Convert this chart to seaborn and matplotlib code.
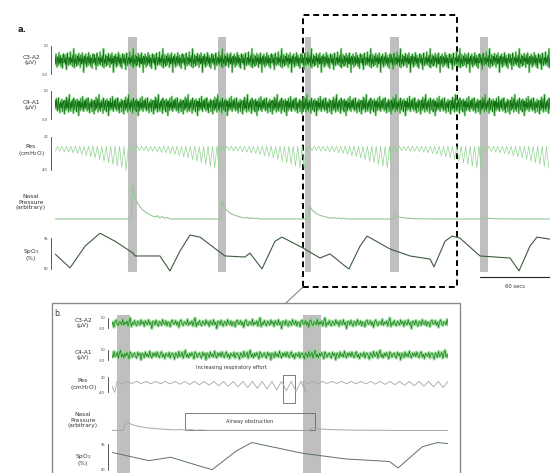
import numpy as np
import seaborn as sns
import matplotlib
matplotlib.use("Agg")
import matplotlib.pyplot as plt
from matplotlib.patches import Rectangle
from matplotlib.lines import Line2D

# recording (seconds) and arousal events
record_len = 425
arousal_start = [63, 140, 215, 288, 365]
arousal_end = [70, 147, 220, 295, 372]
window = (213, 345)

# EEG segments (uV), repeated along the recording
eeg_dt = 0.425
eeg_c3 = [12, -18, 25, -8, -30, 14, 6, -22, 31, -5, -14, 20, -27, 9, 3, -35, 18, 26, -12, -6,
          22, -19, 8, -40, 15, 29, -10, -24, 11, 5, -16, 34, -21, 7, -9, 19, -28, 13, 48, -33,
          4, -15, 23, -11, -26, 17, 2, -20, 28, -7, 10, -31, 21, -3, -17, 30, -13, 6, -52, 16]
eeg_c4 = [-9, 21, -16, 27, -4, -25, 13, 30, -19, 7, -33, 15, 2, -12, 24, -28, 10, 18, -7, -38,
          20, 5, -22, 33, -14, -3, 26, -30, 12, 44, -18, 8, -26, 16, -10, 22, -2, -35, 29, 11,
          -21, 6, 19, -15, -29, 25, -6, 14, -45, 17, 3, -24, 28, -11, 9, -19, 36, -8, -27, 18]

# esophageal pressure: swing depth (cmH2O) per breath, last breath = just before arousal
breath_period = 3.8
pes_swing = [6, 5, 5, 6, 6, 7, 8, 9, 10, 12, 14, 16, 18, 21, 24, 27, 30, 33, 36, 40]
pes_top = 3

# nasal pressure response after each arousal (arbitrary units)
nasal_rel_t = [0, 2.5, 3.5, 6, 9, 12, 16, 20, 23, 25, 27, 29, 31, 33, 36]
nasal_shape = [0, 0, 1.0, 0.62, 0.42, 0.28, 0.18, 0.1, 0.06, 0.1, 0.03, 0.08, 0.02, 0.05, 0]
nasal_peak = [1.0, 0.52, 0.42, 0.12, 0.04]

# oxygen saturation (%)
spo2_t = [0, 12.9, 25.8, 38.6, 51.5, 67.0, 68.7, 90.1, 98.7, 107.3, 115.9, 124.5, 145.9, 163.0,
          167.4, 177.7, 188.9, 194.9, 212.9, 227.5, 236.1, 249.0, 252.4, 261.9, 267.9, 287.7,
          304.8, 322.0, 325.4, 334.9, 340.9, 347.7, 364.9, 390.7, 398.4, 407.8, 413.8, 425.0]
spo2_pct = [87.3, 80.5, 91.1, 97.4, 93.5, 87.7, 86.3, 86.3, 79.0, 88.7, 96.5, 95.5, 86.3, 85.8,
            87.7, 80.0, 93.5, 95.5, 90.2, 85.3, 87.3, 81.4, 80.0, 91.1, 96.0, 89.7,
            86.3, 84.8, 81.0, 93.5, 96.0, 95.0, 86.3, 85.3, 79.0, 91.1, 95.5, 94.5]

# ---- build the traces ----
n_rep = int(np.ceil(record_len / (eeg_dt * len(eeg_c3))))
c3 = np.tile(eeg_c3, n_rep)
c4 = np.tile(eeg_c4, n_rep)
t_eeg = np.arange(len(c3)) * eeg_dt
keep = t_eeg <= record_len
t_eeg, c3, c4 = t_eeg[keep], c3[keep], c4[keep]

pes_t, pes_v = [], []
starts = [arousal_start[0] - len(pes_swing) * breath_period] + arousal_start
ends = arousal_start + [record_len + breath_period]
for s, e in zip(starts, ends):
    n = int(np.ceil((e - s) / breath_period))
    for k in range(n):
        tb = s + k * breath_period
        d = pes_swing[max(0, len(pes_swing) - n + k)]
        for tt, vv in [(tb, pes_top), (tb + 0.5 * breath_period, -d)]:
            if 0 <= tt <= record_len:
                pes_t.append(tt)
                pes_v.append(vv)

nasal_t, nasal_v = [0], [0]
for s, pk in zip(arousal_start, nasal_peak):
    for rt, sh in zip(nasal_rel_t, nasal_shape):
        nasal_t.append(s + rt)
        nasal_v.append(pk * sh)
nasal_t.append(record_len)
nasal_v.append(0)

# ---- figure ----
sns.set_style("white")
plt.rcParams['font.family'] = ['DejaVu Sans']

W, H = 550, 473
fig = plt.figure(figsize=(W / 100, H / 100), dpi=100)


def box(x0, y0, x1, y1):
    return [x0 / W, 1 - y1 / H, (x1 - x0) / W, (y1 - y0) / H]


def ftext(x, y, s, **kw):
    fig.text(x / W, 1 - y / H, s, **kw)


band_col = "#b4b4b4"
lab_kw = dict(fontsize=4.2, ha="center", va="center", color="#333333", linespacing=1.1)


def trace_ax(rect, xlim, ylim, bracket=None, tick_labels=None):
    ax = fig.add_axes(rect)
    ax.set_facecolor("none")
    ax.set_xlim(*xlim)
    ax.set_ylim(*ylim)
    for sp in ["top", "right", "bottom"]:
        ax.spines[sp].set_visible(False)
    ax.set_xticks([])
    if bracket is None:
        ax.spines["left"].set_visible(False)
        ax.set_yticks([])
    else:
        ax.spines["left"].set_position(("outward", 3))
        ax.spines["left"].set_bounds(*bracket)
        ax.spines["left"].set_linewidth(0.6)
        ax.spines["left"].set_color("#444444")
        ax.set_yticks(list(bracket))
        ax.set_yticklabels(tick_labels)
        ax.tick_params(axis="y", length=1.5, width=0.5, pad=0.5, labelsize=2.6,
                       colors="#444444")
    return ax


def line(ax, x, y, color, lw, alpha=1.0):
    sns.lineplot(x=x, y=y, ax=ax, color=color, lw=lw, alpha=alpha, estimator=None, sort=False)


def eeg(ax, x, y, lw_halo, lw_core):
    line(ax, x, y, "#7fd67f", lw_halo, 0.8)
    line(ax, x, y, "#127312", lw_core)


# ---------- panel a ----------
ax_bg = fig.add_axes(box(55, 15, 550, 287))
ax_bg.set_xlim(0, record_len)
ax_bg.set_ylim(0, 1)
ax_bg.axis("off")
for s, e in zip(arousal_start, arousal_end):
    ax_bg.axvspan(s, e, ymin=(287 - 272) / 272, ymax=(287 - 37) / 272, color=band_col,
                  alpha=0.85, lw=0)
ax_bg.add_patch(Rectangle((window[0], 0), window[1] - window[0], 1, fill=False, ec="black",
                          lw=1.4, ls=(0, (3, 2)), clip_on=False, zorder=5))
ax_bg.plot([record_len - 60, record_len], [0.035, 0.035], color="#222222", lw=0.8,
           clip_on=False)
ax_bg.text(record_len - 30, 0.0, "60 secs", fontsize=3.8, ha="center", va="center",
           color="#333333", clip_on=False)

xa = (0, record_len)
a1 = trace_ax(box(55, 40, 550, 80), xa, (-85, 85), (-60, 60), ["-50", "50"])
eeg(a1, t_eeg, c3, 1.5, 0.5)
a2 = trace_ax(box(55, 85, 550, 125), xa, (-85, 85), (-60, 60), ["-50", "50"])
eeg(a2, t_eeg, c4, 1.5, 0.5)
a3 = trace_ax(box(55, 133, 550, 173), xa, (-45.5, 27), (-40, 20), ["-40", "20"])
line(a3, pes_t, pes_v, "#93d493", 0.5)
a4 = trace_ax(box(55, 180, 550, 223), xa, (-0.12, 1.18))
line(a4, nasal_t, nasal_v, "#96c896", 0.8)
a5 = trace_ax(box(55, 233, 550, 273), xa, (78, 97.5), (80, 95), ["80", "95"])
line(a5, spo2_t, spo2_pct, "#3f5a3f", 0.8)

ftext(22, 30, "a.", fontsize=6, fontweight="bold", ha="center", va="center")
ftext(31, 60, "C3-A2\n(\u03bcV)", **lab_kw)
ftext(31, 105, "C4-A1\n(\u03bcV)", **lab_kw)
ftext(31, 151, "Pes\n(cmH$_2$O)", **lab_kw)
ftext(31, 202, "Nasal\nPressure\n(arbitrary)", **lab_kw)
ftext(31, 254, "SpO$_2$\n(%)", **lab_kw)

# connector to panel b
fig.add_artist(Line2D([303 / W, 286 / W], [1 - 287 / H, 1 - 303 / H], color="#777777",
                      lw=0.7))

# ---------- panel b ----------
fig.add_artist(Rectangle((52 / W, -0.01), (460 - 52) / W, 0.01 + (473 - 303) / H,
                         fill=False, ec="#8a8a8a", lw=1.0, transform=fig.transFigure))
ftext(58, 314, "b.", fontsize=5.5, ha="center", va="center", color="#333333")

ax_bgb = fig.add_axes(box(112, 315, 448, 473))
ax_bgb.set_xlim(*window)
ax_bgb.set_ylim(0, 1)
ax_bgb.axis("off")
for s, e in zip(arousal_start, arousal_end):
    ax_bgb.axvspan(s, e, color=band_col, alpha=0.85, lw=0)
ax_bgb.add_patch(Rectangle((280, 0.443), 5, 0.177, fill=False, ec="#666666", lw=0.6, zorder=6))
ax_bgb.add_patch(Rectangle((241.7, 0.272), 51.1, 0.108, fill=False, ec="#666666", lw=0.6,
                           zorder=6))
ax_bgb.text(267, 0.326, "Airway obstruction", fontsize=3.6, ha="center", va="center",
            color="#333333", zorder=7)
ax_bgb.text(259.8, 0.665, "Increasing respiratory effort", fontsize=3.6, ha="center",
            va="center", color="#333333", zorder=7)

b1 = trace_ax(box(112, 315, 448, 331), window, (-75, 75), (-50, 50), ["-50", "50"])
eeg(b1, t_eeg, c3, 2.2, 0.45)
b2 = trace_ax(box(112, 347, 448, 363), window, (-75, 75), (-50, 50), ["-50", "50"])
eeg(b2, t_eeg, c4, 2.2, 0.45)
b3 = trace_ax(box(112, 372, 448, 400), window, (-70, 40), (-40, 20), ["-40", "20"])
line(b3, pes_t, pes_v, "#a6a6a6", 0.6)
b4 = trace_ax(box(112, 405, 448, 433), window, (-0.12, 1.18))
line(b4, nasal_t, nasal_v, "#a6a6a6", 0.7)
b5 = trace_ax(box(112, 440, 448, 473), window, (78, 97.5), (80, 95), ["80", "95"])
line(b5, spo2_t, spo2_pct, "#5f735f", 0.7)

ftext(83, 323, "C3-A2\n(\u03bcV)", **lab_kw)
ftext(83, 355, "C4-A1\n(\u03bcV)", **lab_kw)
ftext(83, 385, "Pes\n(cmH$_2$O)", **lab_kw)
ftext(83, 420, "Nasal\nPressure\n(arbitrary)", **lab_kw)
ftext(83, 459, "SpO$_2$\n(%)", **lab_kw)

fig.savefig("out.png", dpi=100)
